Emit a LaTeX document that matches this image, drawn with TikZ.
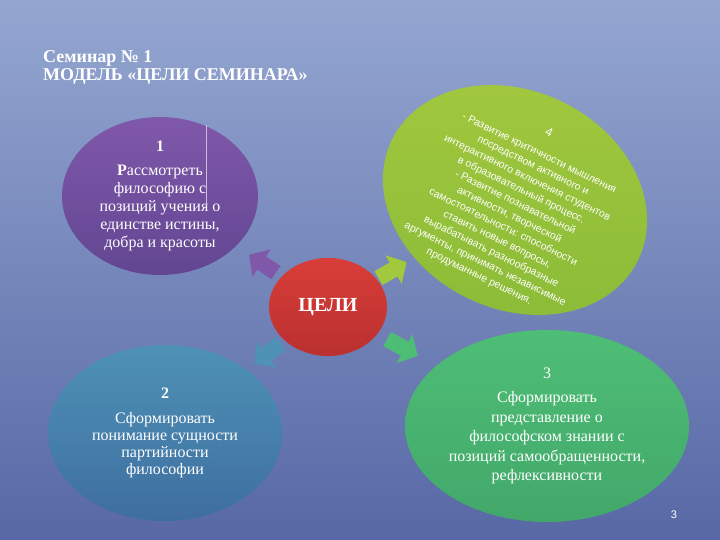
\documentclass[tikz,border=0pt]{standalone}
\usepackage{fontspec}
\setmainfont{Liberation Serif}
\setsansfont{Liberation Sans}
\usetikzlibrary{shapes.geometric,arrows.meta,calc}
\definecolor{bgtop}{RGB}{148,166,208}
\definecolor{bgbot}{RGB}{88,104,166}
\definecolor{plumA}{RGB}{128,88,170}
\definecolor{plumB}{RGB}{98,70,146}
\definecolor{limeA}{RGB}{162,200,62}
\definecolor{limeB}{RGB}{140,188,56}
\definecolor{redA}{RGB}{216,62,56}
\definecolor{redB}{RGB}{186,48,48}
\definecolor{seaA}{RGB}{78,146,182}
\definecolor{seaB}{RGB}{62,110,160}
\definecolor{mintA}{RGB}{78,190,118}
\definecolor{mintB}{RGB}{66,168,106}
\begin{document}
\begin{tikzpicture}[x=1pt,y=-1pt,
    blob/.style={ellipse, inner sep=0pt, text=white, align=center},
    chev/.style={line width=16pt, draw=#1, -{Triangle[length=15pt,width=32pt]}}]
  % background
  \shade[top color=bgtop, bottom color=bgbot] (0,0) rectangle (720,540);
  \useasboundingbox (0,0) rectangle (720,540);
  % title
  \node[anchor=base west, inner sep=0pt, text=white, font=\bfseries\fontsize{18}{20}\selectfont]
    (seminar) at (43,63) {Семинар № 1};
  \node[anchor=base west, inner sep=0pt, text=white, font=\bfseries\fontsize{18}{20}\selectfont]
    (model) at (43,81) {МОДЕЛЬ «ЦЕЛИ СЕМИНАРА»};
  % goals
  \node[blob, minimum width=196pt, minimum height=158pt,
        top color=plumA, bottom color=plumB,
        font=\fontsize{16}{18}\selectfont] (one) at (160,196)
    {\textbf{1}\\[6pt]\textbf{Р}ассмотреть\\философию с\\позиций учения о\\единстве истины,\\добра и красоты};
  \draw[white!60!plumA, line width=0.8pt] (206,125) -- (206,205);
  \node[blob, minimum width=234pt, minimum height=176pt,
        top color=seaA, bottom color=seaB,
        font=\fontsize{16}{17}\selectfont] (two) at (165,433)
    {\textbf{2}\\[8pt]Сформировать\\понимание сущности\\партийности\\философии};
  \node[blob, minimum width=284pt, minimum height=192pt,
        top color=mintA, bottom color=mintB,
        font=\fontsize{16}{19.5}\selectfont] (three) at (547,426)
    {3\\[5pt]Сформировать\\представление о\\философском знании с\\позиций самообращенности,\\рефлексивности};
  \node[blob, rotate=-26, minimum width=274pt, minimum height=218pt,
        top color=limeA, bottom color=limeB] (four) at (515,200) {};
  \node[rotate=-26, text=white, align=center,
        font=\sffamily\fontsize{10.5}{13.7}\selectfont] (fourtext) at (514,205)
    {{\fontsize{12}{12}\selectfont 4}\\[8pt]- Развитие критичности мышления\\посредством активного и\\интерактивного включения студентов\\в образовательный процесс.\\- Развитие познавательной\\активности, творческой\\самостоятельности: способности\\ставить новые вопросы,\\вырабатывать разнообразные\\аргументы, принимать независимые\\продуманные решения.};
  \node[blob, minimum width=118pt, minimum height=98pt,
        top color=redA, bottom color=redB,
        font=\bfseries\fontsize{20}{22}\selectfont] (goal) at (328,307) {ЦЕЛИ};
  % arrows
  \draw[chev=plumA] ($(goal)!0.31!(one)$) -- ($(goal)!0.47!(one)$);
  \draw[chev=seaA] ($(goal)!0.29!(two)$) -- ($(goal)!0.45!(two)$);
  \draw[chev=mintA] ($(goal)!0.27!(three)$) -- ($(goal)!0.41!(three)$);
  \draw[chev=limeA] ($(goal)!0.27!(four)$) -- ($(goal)!0.42!(four)$);
  % page
  \node[text=white, font=\sffamily\fontsize{11}{11}\selectfont] (page) at (674,515) {3};
\end{tikzpicture}
\end{document}
